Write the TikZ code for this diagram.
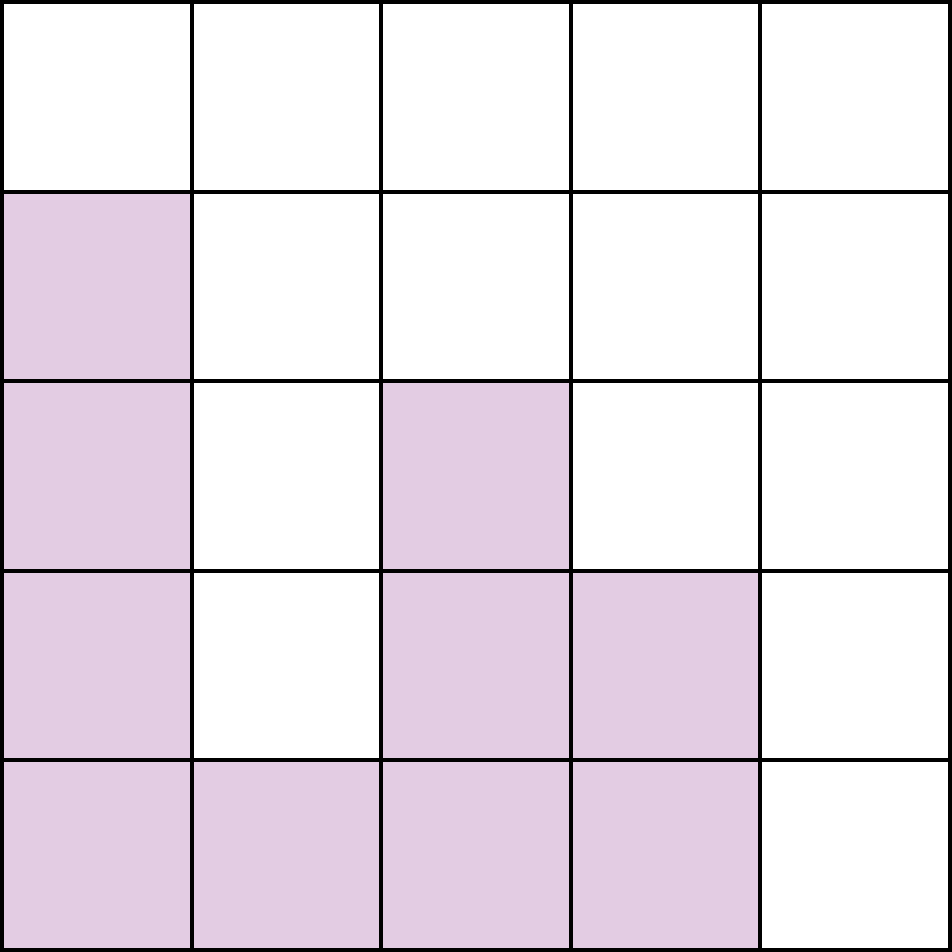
\documentclass[tikz,border=0pt]{standalone}
\definecolor{cellfill}{HTML}{E3CCE3}
\begin{document}
\begin{tikzpicture}[x=1cm,y=1cm,
  gridline/.style={line width=0.0211cm, black},
  filled/.style={fill=cellfill}]
\useasboundingbox (-0.0106,-0.0106) rectangle (5.0106,5.0106);
% filled cells (col, row from bottom)
\foreach \c/\r in {0/3,0/2,0/1,0/0,2/2,2/1,3/1,1/0,2/0,3/0}
  \fill[filled] (\c,\r) rectangle ++(1,1);
\draw[gridline] (0,0) grid (5,5);
\draw[gridline] (0,0) rectangle (5,5);
\end{tikzpicture}
\end{document}
